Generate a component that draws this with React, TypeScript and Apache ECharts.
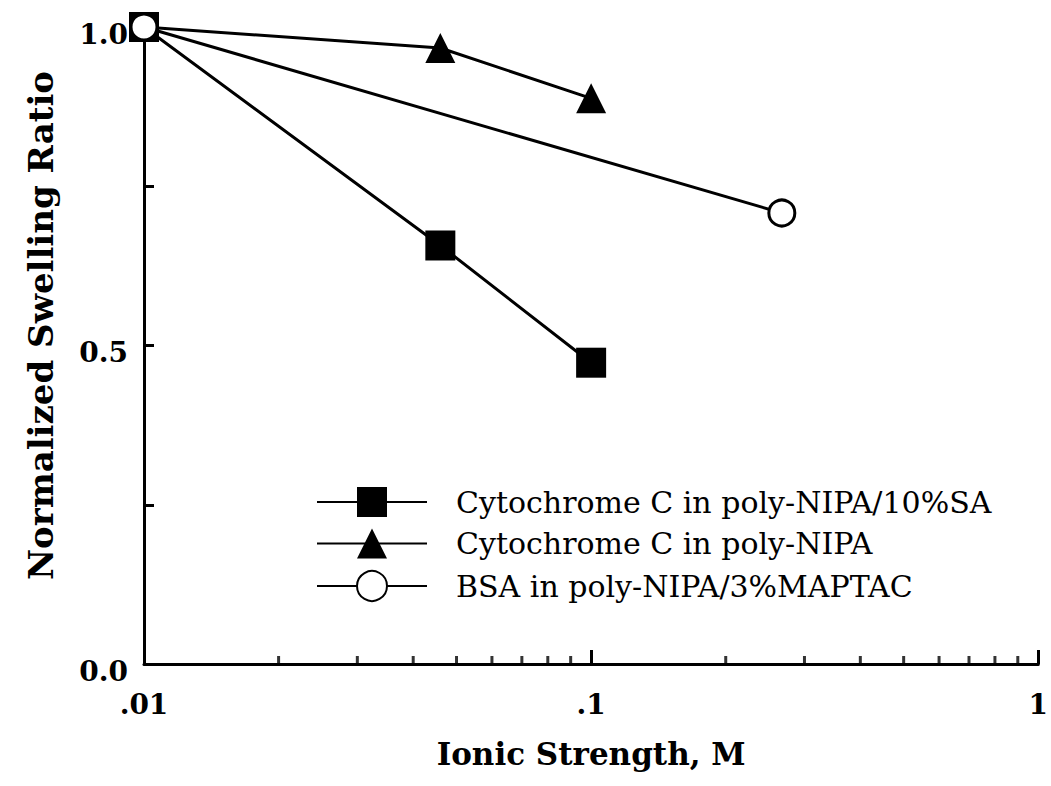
import React, { useEffect, useRef } from "react";
import * as echarts from "echarts";

// Series labels (legend)
const seriesNames = [
  "Cytochrome C in poly-NIPA/10%SA",
  "Cytochrome C in poly-NIPA",
  "BSA in poly-NIPA/3%MAPTAC",
];

// Ionic strength (M) and normalized swelling ratio for each gel/protein pair
const ionicSA = [0.01, 0.046, 0.1];
const swellSA = [1.0, 0.657, 0.473];

const ionicNIPA = [0.01, 0.046, 0.1];
const swellNIPA = [1.0, 0.967, 0.888];

const ionicBSA = [0.01, 0.267];
const swellBSA = [1.0, 0.708];

// Log-axis minor tick positions between decades
const minorTickValues = [
  0.02, 0.03, 0.04, 0.05, 0.06, 0.07, 0.08, 0.09,
  0.2, 0.3, 0.4, 0.5, 0.6, 0.7, 0.8, 0.9,
];

// Tick labels
const xTickLabels = [".01", ".1", "1"];
const yTickLabels = ["0.0", "0.5", "1.0"];

const FONT = "DejaVu Serif";

function pairs(xs: number[], ys: number[]) {
  return xs.map((x, i) => [x, ys[i]]);
}

export default function App() {
  const ref = useRef<HTMLDivElement>(null);

  useEffect(() => {
    if (!ref.current) return;
    const chart = echarts.init(ref.current, undefined, { renderer: "svg" });

    const lineStyle = { color: "#000", width: 3 };

    chart.setOption({
      animation: false,
      backgroundColor: "#fff",
      grid: { left: 144, right: 11, top: 27, bottom: 122, containLabel: false },
      legend: {
        data: seriesNames,
        orient: "vertical",
        left: 316,
        top: 487,
        padding: 0,
        itemWidth: 110,
        itemHeight: 37.5,
        itemGap: 11.5,
        textStyle: {
          fontFamily: FONT,
          fontSize: 30,
          color: "#000",
          padding: [0, 0, 0, 24],
        },
        selectedMode: false,
      },
      xAxis: {
        type: "log",
        logBase: 10,
        min: 0.01,
        max: 1,
        name: "Ionic Strength, M",
        nameLocation: "middle",
        nameGap: 74,
        nameTextStyle: { fontFamily: FONT, fontSize: 31, fontWeight: "bold", color: "#000" },
        axisLine: { lineStyle: { color: "#000", width: 3 } },
        axisTick: { inside: true, length: 14, lineStyle: { color: "#000", width: 3 } },
        axisLabel: {
          fontFamily: FONT,
          fontSize: 28,
          fontWeight: "bold",
          color: "#000",
          margin: 26,
          formatter: (v: number) => {
            const idx = Math.round(Math.log10(v)) + 2;
            return xTickLabels[idx] ?? "";
          },
        },
        splitLine: { show: false },
      },
      yAxis: {
        type: "value",
        min: 0,
        max: 1,
        interval: 0.25,
        name: "Normalized Swelling Ratio",
        nameLocation: "middle",
        nameGap: 86,
        nameTextStyle: {
          fontFamily: FONT,
          fontSize: 34,
          fontWeight: "bold",
          color: "#000",
          padding: [0, 0, 0, 40],
        },
        axisLine: { show: true, lineStyle: { color: "#000", width: 3 } },
        axisTick: { show: true, inside: true, length: 10, lineStyle: { color: "#000", width: 3 } },
        axisLabel: {
          fontFamily: FONT,
          fontSize: 28,
          fontWeight: "bold",
          color: "#000",
          margin: 16,
          verticalAlign: "top",
          lineHeight: 14,
          formatter: (v: number) => {
            const k = Math.round(v * 2);
            return Math.abs(v * 2 - k) < 1e-6 ? yTickLabels[k] : "";
          },
        },
        splitLine: { show: false },
      },
      series: [
        {
          type: "scatter",
          name: "minor-ticks",
          data: minorTickValues.map((v) => [v, 0]),
          symbol: "rect",
          symbolSize: [3, 8],
          symbolOffset: [0, -4],
          itemStyle: { color: "#000" },
          silent: true,
          clip: false,
        },
        {
          type: "line",
          name: seriesNames[0],
          data: pairs(ionicSA, swellSA),
          symbol: "rect",
          symbolSize: 30,
          lineStyle,
          itemStyle: { color: "#000" },
        },
        {
          type: "line",
          name: seriesNames[1],
          data: pairs(ionicNIPA, swellNIPA),
          symbol: "triangle",
          symbolSize: 30,
          lineStyle,
          itemStyle: { color: "#000" },
        },
        {
          type: "line",
          name: seriesNames[2],
          data: pairs(ionicBSA, swellBSA),
          symbol: "circle",
          symbolSize: 26,
          lineStyle,
          itemStyle: { color: "#fff", borderColor: "#000", borderWidth: 3 },
        },
      ],
    });

    return () => chart.dispose();
  }, []);

  return (
    <div
      ref={ref}
      style={{ position: "absolute", left: 0, top: 0, width: 1051, height: 786, background: "#fff" }}
    />
  );
}
